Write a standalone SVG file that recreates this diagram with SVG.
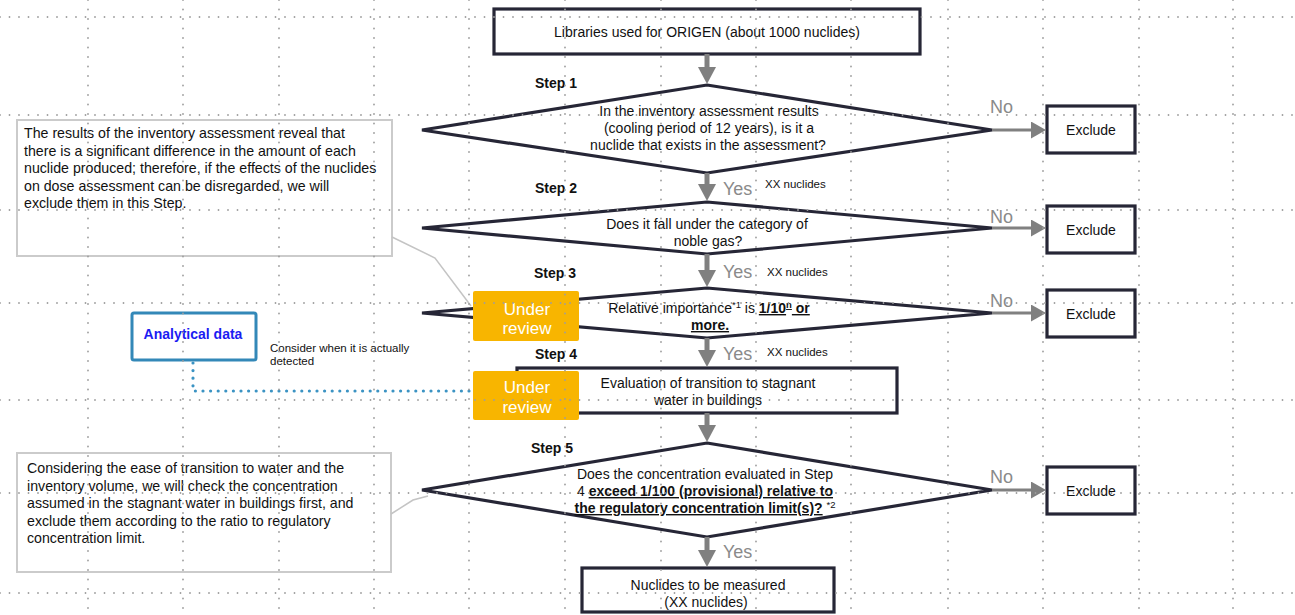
<svg xmlns="http://www.w3.org/2000/svg" width="1295" height="615" viewBox="0 0 1295 615">
  <defs>
    <style>
      .t { font-family: "Liberation Sans", Arial, sans-serif; font-size: 14px; fill: #111; }
      .n { font-size: 14.2px; }
      .c { text-anchor: middle; }
      .step { font-family: "Liberation Sans", Arial, sans-serif; font-size: 14px; font-weight: bold; fill: #111; }
      .yn { font-family: "Liberation Sans", Arial, sans-serif; font-size: 18px; fill: #8a8a8a; }
      .small { font-family: "Liberation Sans", Arial, sans-serif; font-size: 11.5px; fill: #111; }
      .bu { font-weight: bold; text-decoration: underline; }
      .sup { font-size: 9.5px; baseline-shift: super; }
      .box { fill: none; stroke: #262636; stroke-width: 3.2; }
      .dia { fill: none; stroke: #262636; stroke-width: 3.2; stroke-linejoin: miter; }
      .note { fill: none; stroke: #cbcbcb; stroke-width: 2; }
      .lead { fill: none; stroke: #c4c4c4; stroke-width: 1.5; }
      .review { fill: #F8B500; }
      .rv { font-family: "Liberation Sans", Arial, sans-serif; font-size: 17px; fill: #fff; text-anchor: middle; }
      .down { stroke: #808080; stroke-width: 5; fill: none; }
      .side { stroke: #808080; stroke-width: 3; fill: none; }
      .grid line { stroke: #9d9d9d; stroke-width: 1.8; stroke-linecap: round; stroke-dasharray: 0 9.5; }
    </style>
    <marker id="headDown" markerUnits="userSpaceOnUse" markerWidth="18" markerHeight="18" viewBox="0 0 17 18" refX="0" refY="9" orient="auto">
      <path d="M0,0 L17,9 L0,18 Z" fill="#808080"/>
    </marker>
    <marker id="headSide" markerUnits="userSpaceOnUse" markerWidth="16" markerHeight="17" viewBox="0 0 15 17" refX="0" refY="8.5" orient="auto">
      <path d="M0,0 L15,8.5 L0,17 Z" fill="#808080"/>
    </marker>
  </defs>

  <rect width="1295" height="615" fill="#fff"/>

  <!-- start box -->
  <g id="libraries">
    <rect class="box" x="494" y="9" width="426" height="45"/>
    <text class="t c" x="707" y="37">Libraries used for ORIGEN (about 1000 nuclides)</text>
  </g>

  <!-- step 1 -->
  <g id="step1">
    <text class="step" x="535" y="88">Step 1</text>
    <polygon class="dia" points="707,85 992,130 707,173 422,130"/>
    <text class="t c" x="709" y="116">In the inventory assessment results</text>
    <text class="t c" x="709" y="133">(cooling period of 12 years), is it a</text>
    <text class="t c" x="708" y="150">nuclide that exists in the assessment?</text>
  </g>
  <g id="exclude1">
    <rect class="box" x="1047" y="106" width="88" height="47"/>
    <text class="t c" x="1091" y="135">Exclude</text>
  </g>

  <!-- step 2 -->
  <g id="step2">
    <text class="step" x="535" y="193">Step 2</text>
    <polygon class="dia" points="707,202 992,228 707,254 422,228"/>
    <text class="t c" x="707" y="229">Does it fall under the category of</text>
    <text class="t c" x="708" y="246">noble gas?</text>
  </g>
  <g id="exclude2">
    <rect class="box" x="1047" y="206" width="88" height="47"/>
    <text class="t c" x="1091" y="235">Exclude</text>
  </g>

  <!-- step 3 -->
  <g id="step3">
    <text class="step" x="534" y="278">Step 3</text>
    <polygon class="dia" points="707,288 992,313 707,338 422,313"/>
    <text class="t c" x="709" y="313">Relative importance<tspan class="sup">*1</tspan> is <tspan class="bu">1/10<tspan class="sup">n</tspan> or</tspan></text>
    <text class="t c" x="710" y="330"><tspan class="bu">more.</tspan></text>
  </g>
  <g id="exclude3">
    <rect class="box" x="1047" y="290" width="88" height="47"/>
    <text class="t c" x="1091" y="319">Exclude</text>
  </g>
  <g id="review3">
    <rect class="review" x="473" y="291" width="106" height="50" rx="2"/>
    <text class="rv" x="527" y="315">Under</text>
    <text class="rv" x="527" y="334">review</text>
  </g>

  <!-- step 4 -->
  <g id="step4">
    <text class="step" x="535" y="359">Step 4</text>
    <rect class="box" x="517" y="368" width="380" height="45"/>
    <text class="t c" x="708" y="388">Evaluation of transition to stagnant</text>
    <text class="t c" x="708" y="405">water in buildings</text>
  </g>
  <g id="review4">
    <rect class="review" x="473" y="371" width="106" height="49" rx="2"/>
    <text class="rv" x="527" y="393">Under</text>
    <text class="rv" x="527" y="413">review</text>
  </g>

  <!-- step 5 -->
  <g id="step5">
    <text class="step" x="531" y="453">Step 5</text>
    <polygon class="dia" points="707,443 992,490 707,537 422,490"/>
    <text class="t c" x="705" y="479">Does the concentration evaluated in Step</text>
    <text class="t c" x="705" y="496">4 <tspan class="bu">exceed 1/100 (provisional) relative to</tspan></text>
    <text class="t c" x="705" y="513"><tspan class="bu">the regulatory concentration limit(s)?</tspan> <tspan class="sup">*2</tspan></text>
  </g>
  <g id="exclude5">
    <rect class="box" x="1047" y="467" width="88" height="47"/>
    <text class="t c" x="1091" y="496">Exclude</text>
  </g>

  <!-- result -->
  <g id="measured">
    <rect class="box" x="582" y="568" width="252" height="44"/>
    <text class="t c" x="708" y="590">Nuclides to be measured</text>
    <text class="t c" x="706" y="607">(XX nuclides)</text>
  </g>

  <!-- side notes -->
  <g id="note1">
    <rect class="note" x="17" y="120" width="375" height="136"/>
    <text class="t n" x="24" y="138">The results of the inventory assessment reveal that</text>
    <text class="t n" x="24" y="155.5">there is a significant difference in the amount of each</text>
    <text class="t n" x="24" y="173">nuclide produced; therefore, if the effects of the nuclides</text>
    <text class="t n" x="24" y="190.5">on dose assessment can be disregarded, we will</text>
    <text class="t n" x="24" y="208">exclude them in this Step.</text>
  </g>
  <g id="note2">
    <rect class="note" x="17" y="453" width="374" height="119"/>
    <text class="t n" x="27" y="473">Considering the ease of transition to water and the</text>
    <text class="t n" x="27" y="491">inventory volume, we will check the concentration</text>
    <text class="t n" x="27" y="508">assumed in the stagnant water in buildings first, and</text>
    <text class="t n" x="27" y="526">exclude them according to the ratio to regulatory</text>
    <text class="t n" x="27" y="543">concentration limit.</text>
  </g>
  <g id="analytical">
    <rect x="132" y="313" width="124" height="47" rx="2" fill="none" stroke="#3388b8" stroke-width="3"/>
    <text x="193" y="339" text-anchor="middle" font-family="Liberation Sans, Arial, sans-serif" font-size="14" font-weight="bold" fill="#1b1bf2">Analytical data</text>
    <text class="small" x="270" y="352">Consider when it is actually</text>
    <text class="small" x="270" y="365">detected</text>
  </g>

  <!-- connectors -->
  <g id="connectors">
    <line class="down" x1="707" y1="54" x2="707" y2="67" marker-end="url(#headDown)"/>
    <line class="down" x1="707" y1="173" x2="707" y2="184" marker-end="url(#headDown)"/>
    <line class="down" x1="707" y1="254" x2="707" y2="270" marker-end="url(#headDown)"/>
    <line class="down" x1="707" y1="338" x2="707" y2="350" marker-end="url(#headDown)"/>
    <line class="down" x1="707" y1="413" x2="707" y2="425" marker-end="url(#headDown)"/>
    <line class="down" x1="707" y1="537" x2="707" y2="550" marker-end="url(#headDown)"/>

    <line class="side" x1="992" y1="130" x2="1031" y2="130" marker-end="url(#headSide)"/>
    <line class="side" x1="992" y1="228" x2="1031" y2="228" marker-end="url(#headSide)"/>
    <line class="side" x1="992" y1="313" x2="1031" y2="313" marker-end="url(#headSide)"/>
    <line class="side" x1="992" y1="490" x2="1031" y2="490" marker-end="url(#headSide)"/>

    <text class="yn" x="990" y="113">No</text>
    <text class="yn" x="990" y="223">No</text>
    <text class="yn" x="990" y="307">No</text>
    <text class="yn" x="990" y="483">No</text>

    <text class="yn" x="723" y="195">Yes</text>
    <text class="yn" x="723" y="278">Yes</text>
    <text class="yn" x="723" y="360">Yes</text>
    <text class="yn" x="723" y="558">Yes</text>

    <text class="small" x="765" y="188">XX nuclides</text>
    <text class="small" x="767" y="276">XX nuclides</text>
    <text class="small" x="767" y="356">XX nuclides</text>

    <polyline class="lead" points="392,237 435,258 471,306"/>
    <polyline class="lead" points="391,514 413,500 428,496"/>

    <polyline points="193,363 193,391 471,391" fill="none" stroke="#3b93c3" stroke-width="3.2" stroke-linecap="round" stroke-dasharray="0 7.6"/>
  </g>

  <!-- dotted background grid, drawn over the page -->
  <g class="grid">
    <line x1="0" y1="17" x2="1295" y2="17"/>
    <line x1="0" y1="115" x2="1295" y2="115"/>
    <line x1="0" y1="210" x2="1295" y2="210"/>
    <line x1="0" y1="303" x2="1295" y2="303"/>
    <line x1="0" y1="400" x2="1295" y2="400"/>
    <line x1="0" y1="493" x2="1295" y2="493"/>
    <line x1="0" y1="593" x2="1295" y2="593"/>
    <line x1="88" y1="0" x2="88" y2="615"/>
    <line x1="183" y1="0" x2="183" y2="615"/>
    <line x1="279" y1="0" x2="279" y2="615"/>
    <line x1="374" y1="0" x2="374" y2="615"/>
    <line x1="469" y1="0" x2="469" y2="615"/>
    <line x1="565" y1="0" x2="565" y2="615"/>
    <line x1="661" y1="0" x2="661" y2="615"/>
    <line x1="756" y1="0" x2="756" y2="615"/>
    <line x1="851" y1="0" x2="851" y2="615"/>
    <line x1="948" y1="0" x2="948" y2="615"/>
    <line x1="1043" y1="0" x2="1043" y2="615"/>
    <line x1="1139" y1="0" x2="1139" y2="615"/>
    <line x1="1233" y1="0" x2="1233" y2="615"/>
  </g>
</svg>
